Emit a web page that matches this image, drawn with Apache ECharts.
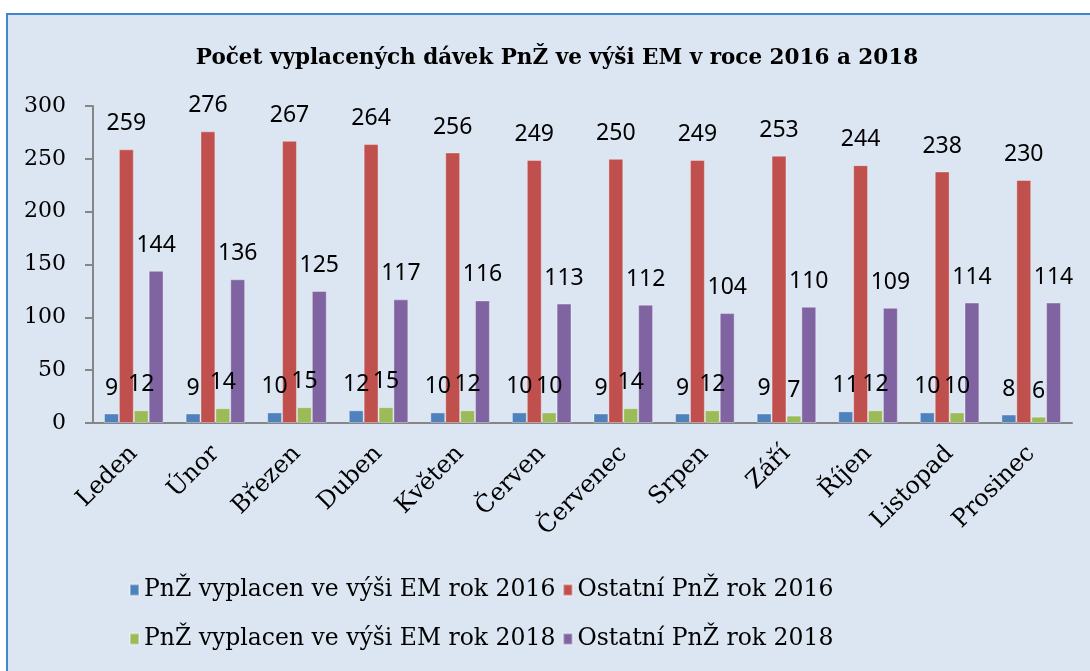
<!DOCTYPE html>
<html>
<head>
<meta charset="utf-8">
<title>Počet vyplacených dávek PnŽ</title>
<script src="https://cdn.jsdelivr.net/npm/echarts@6/dist/echarts.min.js"></script>
<style>
  html, body { margin: 0; padding: 0; background: #fff; }
  #chart { width: 1090px; height: 671px; }
</style>
</head>
<body>
<div id="chart"></div>
<script>
// měsíce na ose x
const months = ["Leden", "Únor", "Březen", "Duben", "Květen", "Červen",
  "Červenec", "Srpen", "Září", "Říjen", "Listopad", "Prosinec"];
// hodnoty jednotlivých řad
const emRok2016 = [9, 9, 10, 12, 10, 10, 9, 9, 9, 11, 10, 8];
const ostatni2016 = [259, 276, 267, 264, 256, 249, 250, 249, 253, 244, 238, 230];
const emRok2018 = [12, 14, 15, 15, 12, 10, 14, 12, 7, 12, 10, 6];
const ostatni2018 = [144, 136, 125, 117, 116, 113, 112, 104, 110, 109, 114, 114];
// popisky osy y
const yTicks = [0, 50, 100, 150, 200, 250, 300];

const seriesNames = [
  "PnŽ vyplacen ve výši EM rok 2016",
  "Ostatní PnŽ rok 2016",
  "PnŽ vyplacen ve výši EM rok 2018",
  "Ostatní PnŽ rok 2018"
];
const colors = ["#4F81BD", "#C0504D", "#9BBB59", "#8064A2"];
const serif = "DejaVu Serif";

const chart = echarts.init(document.getElementById("chart"));

function makeSeries(idx, data) {
  return {
    name: seriesNames[idx],
    type: "bar",
    data: data,
    barGap: "0%",
    barCategoryGap: "27%",
    itemStyle: {
      color: colors[idx],
      borderColor: "rgba(255,255,255,0.35)",
      borderWidth: 1
    },
    label: {
      show: true,
      position: "top",
      distance: 14,
      color: "#000",
      fontFamily: "Noto Sans",
      fontSize: 23
    }
  };
}

const option = {
  backgroundColor: "#fff",
  animation: false,
  color: colors,
  // pozadí a rámeček jako v Excelu
  graphic: [{
    type: "rect",
    z: -10,
    silent: true,
    shape: { x: 7, y: 14, width: 1100, height: 700 },
    style: { fill: "#DCE6F2", stroke: "#3F86D3", lineWidth: 2 }
  }],
  title: {
    text: "Počet vyplacených dávek PnŽ ve výši EM v roce 2016 a 2018",
    left: 552,
    textAlign: "center",
    top: 42,
    textStyle: {
      fontFamily: serif,
      fontWeight: "bold",
      fontSize: 21.5,
      color: "#000"
    }
  },
  legend: [{
    data: seriesNames.slice(0, 2),
    left: 124,
    top: 573,
    icon: "rect",
    itemWidth: 9,
    itemHeight: 11,
    itemGap: 7,
    textStyle: { fontFamily: serif, fontSize: 23.5, color: "#000" }
  }, {
    data: seriesNames.slice(2, 4),
    left: 124,
    top: 622,
    icon: "rect",
    itemWidth: 9,
    itemHeight: 11,
    itemGap: 7,
    textStyle: { fontFamily: serif, fontSize: 23.5, color: "#000" }
  }],
  grid: {
    left: 93,
    right: 18,
    top: 106,
    bottom: 248
  },
  xAxis: {
    type: "category",
    data: months,
    axisLine: { lineStyle: { color: "#868686", width: 2 } },
    axisTick: { length: 7, lineStyle: { color: "#868686", width: 2 } },
    axisLabel: {
      rotate: 45,
      margin: 27,
      interval: 0,
      fontFamily: serif,
      fontSize: 24,
      color: "#000"
    }
  },
  yAxis: {
    type: "value",
    min: yTicks[0],
    max: yTicks[yTicks.length - 1],
    interval: 50,
    splitLine: { show: false },
    axisLine: { show: true, lineStyle: { color: "#868686", width: 2 } },
    axisTick: { show: true, length: 8, lineStyle: { color: "#868686", width: 2 } },
    axisLabel: {
      margin: 27,
      fontFamily: serif,
      fontSize: 22,
      color: "#000"
    }
  },
  series: [
    makeSeries(0, emRok2016),
    makeSeries(1, ostatni2016),
    makeSeries(2, emRok2018),
    makeSeries(3, ostatni2018)
  ]
};

chart.setOption(option);
</script>
</body>
</html>
